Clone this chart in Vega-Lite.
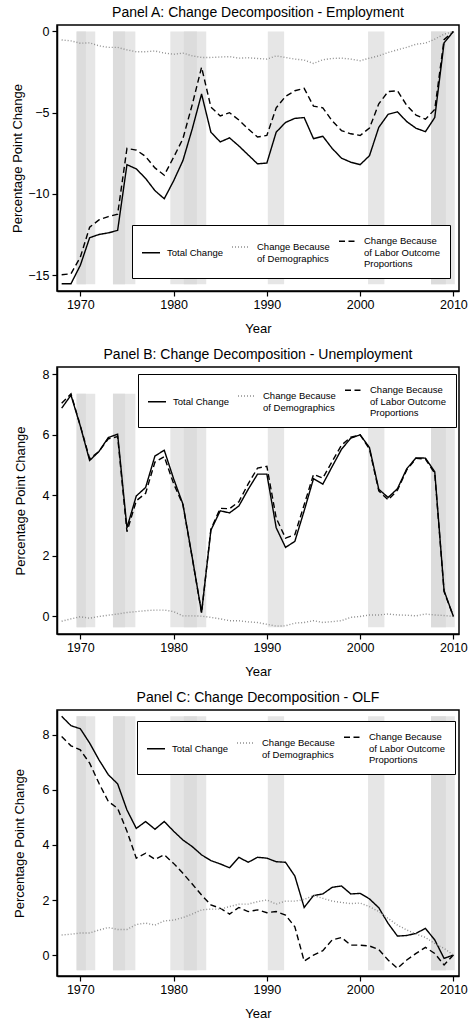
{
  "$schema": "https://vega.github.io/schema/vega-lite/v6.json",
  "background": "white",
  "padding": {"left": 11, "top": 5, "right": 0, "bottom": 2},
  "spacing": 10,
  "config": {
    "font": "Liberation Sans",
    "view": {"stroke": "black", "strokeWidth": 1.5},
    "title": {"fontSize": 14, "fontWeight": "normal", "color": "black", "offset": 5},
    "axis": {
      "labelFontSize": 12.5, "titleFontSize": 13, "titleFontWeight": "normal",
      "labelColor": "black", "titleColor": "black",
      "domainColor": "black", "domainWidth": 1.5, "tickColor": "black", "tickWidth": 1.2, "tickSize": 5,
      "gridColor": "#ececec", "gridWidth": 1.5
    },
    "axisX": {"grid": false, "labelPadding": 2, "titlePadding": 12},
    "axisY": {"labelPadding": 3},
    "legend": {
      "title": null, "direction": "vertical", "columns": 3,
      "symbolType": "M-1,0H2", "symbolSize": 144, "symbolStrokeWidth": 1.4,
      "labelFontSize": 9.5, "labelLimit": 200, "labelOffset": 12,
      "strokeColor": "black", "fillColor": "white", "padding": 9,
      "columnPadding": 6
    }
  },
  "datasets": {
    "rec": [
      {"start": 1969.6, "end": 1971.6},
      {"start": 1973.5, "end": 1975.9},
      {"start": 1979.65, "end": 1983.5},
      {"start": 1990.1, "end": 1991.85},
      {"start": 2000.85, "end": 2002.6},
      {"start": 2007.6, "end": 2010.15}
    ],
    "recdark": [
      {"start": 1969.6, "end": 1970.6},
      {"start": 1973.5, "end": 1974.8},
      {"start": 1981.1, "end": 1982.5},
      {"start": 2007.6, "end": 2009.2}
    ],
    "lines": [
      {"p": "A", "year": 1968, "Total": -15.53, "Labor": -14.98, "Demog": -0.52},
      {"p": "A", "year": 1969, "Total": -15.53, "Labor": -14.92, "Demog": -0.58},
      {"p": "A", "year": 1970, "Total": -14.4, "Labor": -13.9, "Demog": -0.72},
      {"p": "A", "year": 1971, "Total": -12.7, "Labor": -12.05, "Demog": -0.7},
      {"p": "A", "year": 1972, "Total": -12.5, "Labor": -11.6, "Demog": -0.88},
      {"p": "A", "year": 1973, "Total": -12.4, "Labor": -11.4, "Demog": -0.98},
      {"p": "A", "year": 1974, "Total": -12.25, "Labor": -11.25, "Demog": -0.98},
      {"p": "A", "year": 1975, "Total": -8.2, "Labor": -7.2, "Demog": -1.13},
      {"p": "A", "year": 1976, "Total": -8.46, "Labor": -7.3, "Demog": -1.25},
      {"p": "A", "year": 1977, "Total": -9.05, "Labor": -7.7, "Demog": -1.25},
      {"p": "A", "year": 1978, "Total": -9.8, "Labor": -8.4, "Demog": -1.2},
      {"p": "A", "year": 1979, "Total": -10.3, "Labor": -8.85, "Demog": -1.33},
      {"p": "A", "year": 1980, "Total": -9.2, "Labor": -7.75, "Demog": -1.4},
      {"p": "A", "year": 1981, "Total": -7.95, "Labor": -6.6, "Demog": -1.33},
      {"p": "A", "year": 1982, "Total": -6.0, "Labor": -4.5, "Demog": -1.5},
      {"p": "A", "year": 1983, "Total": -3.85, "Labor": -2.2, "Demog": -1.6},
      {"p": "A", "year": 1984, "Total": -6.2, "Labor": -4.65, "Demog": -1.6},
      {"p": "A", "year": 1985, "Total": -6.8, "Labor": -5.2, "Demog": -1.57},
      {"p": "A", "year": 1986, "Total": -6.55, "Labor": -5.0, "Demog": -1.55},
      {"p": "A", "year": 1987, "Total": -7.05, "Labor": -5.45, "Demog": -1.64},
      {"p": "A", "year": 1988, "Total": -7.6, "Labor": -6.0, "Demog": -1.62},
      {"p": "A", "year": 1989, "Total": -8.15, "Labor": -6.5, "Demog": -1.66},
      {"p": "A", "year": 1990, "Total": -8.1, "Labor": -6.4, "Demog": -1.7},
      {"p": "A", "year": 1991, "Total": -6.2, "Labor": -4.7, "Demog": -1.5},
      {"p": "A", "year": 1992, "Total": -5.6, "Labor": -4.0, "Demog": -1.6},
      {"p": "A", "year": 1993, "Total": -5.35, "Labor": -3.65, "Demog": -1.7},
      {"p": "A", "year": 1994, "Total": -5.3, "Labor": -3.5, "Demog": -1.76},
      {"p": "A", "year": 1995, "Total": -6.6, "Labor": -4.6, "Demog": -1.97},
      {"p": "A", "year": 1996, "Total": -6.45, "Labor": -4.7, "Demog": -1.74},
      {"p": "A", "year": 1997, "Total": -7.2, "Labor": -5.5, "Demog": -1.66},
      {"p": "A", "year": 1998, "Total": -7.8, "Labor": -6.1, "Demog": -1.64},
      {"p": "A", "year": 1999, "Total": -8.05, "Labor": -6.3, "Demog": -1.7},
      {"p": "A", "year": 2000, "Total": -8.2, "Labor": -6.4, "Demog": -1.8},
      {"p": "A", "year": 2001, "Total": -7.65, "Labor": -5.95, "Demog": -1.64},
      {"p": "A", "year": 2002, "Total": -5.9, "Labor": -4.45, "Demog": -1.5},
      {"p": "A", "year": 2003, "Total": -5.1, "Labor": -3.7, "Demog": -1.29},
      {"p": "A", "year": 2004, "Total": -4.95, "Labor": -3.65, "Demog": -1.13},
      {"p": "A", "year": 2005, "Total": -5.55, "Labor": -4.55, "Demog": -0.98},
      {"p": "A", "year": 2006, "Total": -5.96, "Labor": -5.15, "Demog": -0.78},
      {"p": "A", "year": 2007, "Total": -6.17, "Labor": -5.4, "Demog": -0.72},
      {"p": "A", "year": 2008, "Total": -5.3, "Labor": -4.8, "Demog": -0.47},
      {"p": "A", "year": 2009, "Total": -0.7, "Labor": -0.5, "Demog": -0.17},
      {"p": "A", "year": 2010, "Total": 0, "Labor": 0, "Demog": 0},
      {"p": "B", "year": 1968, "Total": 6.88, "Labor": 7.04, "Demog": -0.16},
      {"p": "B", "year": 1969, "Total": 7.31, "Labor": 7.35, "Demog": -0.08},
      {"p": "B", "year": 1970, "Total": 6.29, "Labor": 6.3, "Demog": -0.01},
      {"p": "B", "year": 1971, "Total": 5.15, "Labor": 5.21, "Demog": -0.06},
      {"p": "B", "year": 1972, "Total": 5.45, "Labor": 5.45, "Demog": 0.0},
      {"p": "B", "year": 1973, "Total": 5.91, "Labor": 5.87, "Demog": 0.04},
      {"p": "B", "year": 1974, "Total": 6.02, "Labor": 5.94, "Demog": 0.08},
      {"p": "B", "year": 1975, "Total": 2.93, "Labor": 2.8, "Demog": 0.13},
      {"p": "B", "year": 1976, "Total": 3.98, "Labor": 3.82, "Demog": 0.16},
      {"p": "B", "year": 1977, "Total": 4.26, "Labor": 4.07, "Demog": 0.19},
      {"p": "B", "year": 1978, "Total": 5.3, "Labor": 5.1, "Demog": 0.21},
      {"p": "B", "year": 1979, "Total": 5.49, "Labor": 5.28, "Demog": 0.21},
      {"p": "B", "year": 1980, "Total": 4.55, "Labor": 4.39, "Demog": 0.16},
      {"p": "B", "year": 1981, "Total": 3.71, "Labor": 3.69, "Demog": 0.02},
      {"p": "B", "year": 1982, "Total": 1.95, "Labor": 1.93, "Demog": 0.02},
      {"p": "B", "year": 1983, "Total": 0.13, "Labor": 0.12, "Demog": 0.01},
      {"p": "B", "year": 1984, "Total": 2.85, "Labor": 2.88, "Demog": -0.03},
      {"p": "B", "year": 1985, "Total": 3.49, "Labor": 3.57, "Demog": -0.08},
      {"p": "B", "year": 1986, "Total": 3.42, "Labor": 3.56, "Demog": -0.14},
      {"p": "B", "year": 1987, "Total": 3.65, "Labor": 3.79, "Demog": -0.14},
      {"p": "B", "year": 1988, "Total": 4.2, "Labor": 4.38, "Demog": -0.18},
      {"p": "B", "year": 1989, "Total": 4.7, "Labor": 4.9, "Demog": -0.2},
      {"p": "B", "year": 1990, "Total": 4.7, "Labor": 4.96, "Demog": -0.26},
      {"p": "B", "year": 1991, "Total": 2.93, "Labor": 3.25, "Demog": -0.32},
      {"p": "B", "year": 1992, "Total": 2.28, "Labor": 2.59, "Demog": -0.31},
      {"p": "B", "year": 1993, "Total": 2.48, "Labor": 2.7, "Demog": -0.22},
      {"p": "B", "year": 1994, "Total": 3.49, "Labor": 3.69, "Demog": -0.2},
      {"p": "B", "year": 1995, "Total": 4.55, "Labor": 4.69, "Demog": -0.14},
      {"p": "B", "year": 1996, "Total": 4.37, "Labor": 4.57, "Demog": -0.2},
      {"p": "B", "year": 1997, "Total": 4.95, "Labor": 5.12, "Demog": -0.17},
      {"p": "B", "year": 1998, "Total": 5.52, "Labor": 5.66, "Demog": -0.14},
      {"p": "B", "year": 1999, "Total": 5.89, "Labor": 5.92, "Demog": -0.03},
      {"p": "B", "year": 2000, "Total": 6.0, "Labor": 6.0, "Demog": 0.0},
      {"p": "B", "year": 2001, "Total": 5.58, "Labor": 5.53, "Demog": 0.05},
      {"p": "B", "year": 2002, "Total": 4.2, "Labor": 4.15, "Demog": 0.05},
      {"p": "B", "year": 2003, "Total": 3.93, "Labor": 3.85, "Demog": 0.08},
      {"p": "B", "year": 2004, "Total": 4.22, "Labor": 4.17, "Demog": 0.05},
      {"p": "B", "year": 2005, "Total": 4.88, "Labor": 4.84, "Demog": 0.04},
      {"p": "B", "year": 2006, "Total": 5.24, "Labor": 5.22, "Demog": 0.02},
      {"p": "B", "year": 2007, "Total": 5.23, "Labor": 5.2, "Demog": 0.08},
      {"p": "B", "year": 2008, "Total": 4.78, "Labor": 4.73, "Demog": 0.05},
      {"p": "B", "year": 2009, "Total": 0.85, "Labor": 0.82, "Demog": 0.03},
      {"p": "B", "year": 2010, "Total": 0, "Labor": 0, "Demog": 0},
      {"p": "C", "year": 1968, "Total": 8.67, "Labor": 7.94, "Demog": 0.73},
      {"p": "C", "year": 1969, "Total": 8.33, "Labor": 7.6, "Demog": 0.76},
      {"p": "C", "year": 1970, "Total": 8.22, "Labor": 7.45, "Demog": 0.8},
      {"p": "C", "year": 1971, "Total": 7.7, "Labor": 6.97, "Demog": 0.8},
      {"p": "C", "year": 1972, "Total": 7.09, "Labor": 6.24, "Demog": 0.91},
      {"p": "C", "year": 1973, "Total": 6.55, "Labor": 5.58, "Demog": 1.0},
      {"p": "C", "year": 1974, "Total": 6.22, "Labor": 5.33, "Demog": 0.93},
      {"p": "C", "year": 1975, "Total": 5.27, "Labor": 4.5, "Demog": 0.93},
      {"p": "C", "year": 1976, "Total": 4.6, "Labor": 3.52, "Demog": 1.11},
      {"p": "C", "year": 1977, "Total": 4.85, "Labor": 3.7, "Demog": 1.16},
      {"p": "C", "year": 1978, "Total": 4.57, "Labor": 3.48, "Demog": 1.09},
      {"p": "C", "year": 1979, "Total": 4.85, "Labor": 3.64, "Demog": 1.24},
      {"p": "C", "year": 1980, "Total": 4.5, "Labor": 3.33, "Demog": 1.27},
      {"p": "C", "year": 1981, "Total": 4.18, "Labor": 2.97, "Demog": 1.36},
      {"p": "C", "year": 1982, "Total": 3.94, "Labor": 2.58, "Demog": 1.49},
      {"p": "C", "year": 1983, "Total": 3.64, "Labor": 2.18, "Demog": 1.64},
      {"p": "C", "year": 1984, "Total": 3.43, "Labor": 1.82, "Demog": 1.67},
      {"p": "C", "year": 1985, "Total": 3.31, "Labor": 1.7, "Demog": 1.67},
      {"p": "C", "year": 1986, "Total": 3.17, "Labor": 1.49, "Demog": 1.76},
      {"p": "C", "year": 1987, "Total": 3.55, "Labor": 1.73, "Demog": 1.85},
      {"p": "C", "year": 1988, "Total": 3.37, "Labor": 1.58, "Demog": 1.85},
      {"p": "C", "year": 1989, "Total": 3.55, "Labor": 1.64, "Demog": 1.94},
      {"p": "C", "year": 1990, "Total": 3.52, "Labor": 1.54, "Demog": 2.0},
      {"p": "C", "year": 1991, "Total": 3.39, "Labor": 1.58, "Demog": 1.85},
      {"p": "C", "year": 1992, "Total": 3.37, "Labor": 1.45, "Demog": 1.96},
      {"p": "C", "year": 1993, "Total": 2.87, "Labor": 1.03, "Demog": 1.96},
      {"p": "C", "year": 1994, "Total": 1.73, "Labor": -0.22, "Demog": 2.02},
      {"p": "C", "year": 1995, "Total": 2.16, "Labor": 0.0, "Demog": 2.16},
      {"p": "C", "year": 1996, "Total": 2.22, "Labor": 0.16, "Demog": 2.06},
      {"p": "C", "year": 1997, "Total": 2.46, "Labor": 0.55, "Demog": 1.96},
      {"p": "C", "year": 1998, "Total": 2.51, "Labor": 0.64, "Demog": 1.91},
      {"p": "C", "year": 1999, "Total": 2.22, "Labor": 0.36, "Demog": 1.87},
      {"p": "C", "year": 2000, "Total": 2.24, "Labor": 0.36, "Demog": 1.89},
      {"p": "C", "year": 2001, "Total": 2.04, "Labor": 0.33, "Demog": 1.76},
      {"p": "C", "year": 2002, "Total": 1.72, "Labor": 0.2, "Demog": 1.58},
      {"p": "C", "year": 2003, "Total": 1.15, "Labor": -0.18, "Demog": 1.33},
      {"p": "C", "year": 2004, "Total": 0.69, "Labor": -0.48, "Demog": 1.09},
      {"p": "C", "year": 2005, "Total": 0.71, "Labor": -0.18, "Demog": 0.91},
      {"p": "C", "year": 2006, "Total": 0.79, "Labor": 0.06, "Demog": 0.76},
      {"p": "C", "year": 2007, "Total": 0.97, "Labor": 0.28, "Demog": 0.64},
      {"p": "C", "year": 2008, "Total": 0.55, "Labor": 0.06, "Demog": 0.42},
      {"p": "C", "year": 2009, "Total": -0.12, "Labor": -0.36, "Demog": 0.24},
      {"p": "C", "year": 2010, "Total": 0, "Labor": 0, "Demog": 0}
    ]
  },
  "resolve": {"scale": {"color": "independent", "strokeDash": "independent"}},
  "vconcat": [
    {
      "width": 402, "height": 266,
      "title": "Panel A: Change Decomposition - Employment",
      "layer": [
        {
          "data": {"name": "rec"},
          "mark": {"type": "rect", "color": "#e6e6e6"},
          "encoding": {
            "x": {"field": "start", "type": "quantitative", "title": "Year"},
            "x2": {"field": "end"},
            "y": {"datum": -15.57, "type": "quantitative", "title": "Percentage Point Change"},
            "y2": {"datum": 0}
          }
        },
        {
          "data": {"name": "recdark"},
          "mark": {"type": "rect", "color": "#dcdcdc"},
          "encoding": {
            "x": {"field": "start", "type": "quantitative", "title": "Year"},
            "x2": {"field": "end"},
            "y": {"datum": -15.57, "type": "quantitative", "title": "Percentage Point Change"},
            "y2": {"datum": 0}
          }
        },
        {
          "data": {"name": "lines"},
          "transform": [{"filter": "datum.p == 'A'"}, {"fold": ["Total", "Labor", "Demog"], "as": ["s", "v"]}],
          "mark": {"type": "line", "strokeWidth": 1.4},
          "encoding": {
            "x": {"field": "year", "type": "quantitative", "title": "Year",
              "scale": {"domain": [1967.5, 2010.6], "nice": false, "zero": false},
              "axis": {"values": [1970, 1980, 1990, 2000, 2010], "format": "d"}},
            "y": {"field": "v", "type": "quantitative", "title": "Percentage Point Change",
              "scale": {"domain": [-15.98, 0.4], "nice": false, "zero": false},
              "axis": {"values": [-15, -10, -5, 0], "titlePadding": 3}},
            "color": {"field": "s", "type": "nominal",
              "scale": {"domain": ["Total", "Demog", "Labor"], "range": ["#000000", "#909090", "#000000"]},
              "legend": {"orient": "none", "legendX": 75, "legendY": 200,
                "labelExpr": "datum.value == 'Total' ? 'Total Change' : datum.value == 'Demog' ? ['Change Because', 'of Demographics'] : ['Change Because', 'of Labor Outcome', 'Proportions']"}},
            "strokeDash": {"field": "s", "type": "nominal",
              "scale": {"domain": ["Total", "Demog", "Labor"], "range": [[1, 0], [1, 2], [6, 3.5]]},
              "legend": {"orient": "none", "legendX": 75, "legendY": 200,
                "labelExpr": "datum.value == 'Total' ? 'Total Change' : datum.value == 'Demog' ? ['Change Because', 'of Demographics'] : ['Change Because', 'of Labor Outcome', 'Proportions']"}}
          }
        }
      ]
    },
    {
      "width": 402, "height": 267,
      "title": "Panel B: Change Decomposition - Unemployment",
      "layer": [
        {
          "data": {"name": "rec"},
          "mark": {"type": "rect", "color": "#e6e6e6"},
          "encoding": {
            "x": {"field": "start", "type": "quantitative", "title": "Year"},
            "x2": {"field": "end"},
            "y": {"datum": -0.36, "type": "quantitative", "title": "Percentage Point Change"},
            "y2": {"datum": 7.36}
          }
        },
        {
          "data": {"name": "recdark"},
          "mark": {"type": "rect", "color": "#dcdcdc"},
          "encoding": {
            "x": {"field": "start", "type": "quantitative", "title": "Year"},
            "x2": {"field": "end"},
            "y": {"datum": -0.36, "type": "quantitative", "title": "Percentage Point Change"},
            "y2": {"datum": 7.36}
          }
        },
        {
          "data": {"name": "lines"},
          "transform": [{"filter": "datum.p == 'B'"}, {"fold": ["Total", "Labor", "Demog"], "as": ["s", "v"]}],
          "mark": {"type": "line", "strokeWidth": 1.4},
          "encoding": {
            "x": {"field": "year", "type": "quantitative", "title": "Year",
              "scale": {"domain": [1967.5, 2010.6], "nice": false, "zero": false},
              "axis": {"values": [1970, 1980, 1990, 2000, 2010], "format": "d"}},
            "y": {"field": "v", "type": "quantitative", "title": "Percentage Point Change",
              "scale": {"domain": [-0.58, 8.24], "nice": false, "zero": false},
              "axis": {"values": [0, 2, 4, 6, 8], "titlePadding": 14.5}},
            "color": {"field": "s", "type": "nominal",
              "scale": {"domain": ["Total", "Demog", "Labor"], "range": ["#000000", "#909090", "#000000"]},
              "legend": {"orient": "none", "legendX": 81, "legendY": 7,
                "labelExpr": "datum.value == 'Total' ? 'Total Change' : datum.value == 'Demog' ? ['Change Because', 'of Demographics'] : ['Change Because', 'of Labor Outcome', 'Proportions']"}},
            "strokeDash": {"field": "s", "type": "nominal",
              "scale": {"domain": ["Total", "Demog", "Labor"], "range": [[1, 0], [1, 2], [6, 3.5]]},
              "legend": {"orient": "none", "legendX": 81, "legendY": 7,
                "labelExpr": "datum.value == 'Total' ? 'Total Change' : datum.value == 'Demog' ? ['Change Because', 'of Demographics'] : ['Change Because', 'of Labor Outcome', 'Proportions']"}}
          }
        }
      ]
    },
    {
      "width": 402, "height": 266,
      "title": "Panel C: Change Decomposition - OLF",
      "layer": [
        {
          "data": {"name": "rec"},
          "mark": {"type": "rect", "color": "#e6e6e6"},
          "encoding": {
            "x": {"field": "start", "type": "quantitative", "title": "Year"},
            "x2": {"field": "end"},
            "y": {"datum": -0.55, "type": "quantitative", "title": "Percentage Point Change"},
            "y2": {"datum": 8.67}
          }
        },
        {
          "data": {"name": "recdark"},
          "mark": {"type": "rect", "color": "#dcdcdc"},
          "encoding": {
            "x": {"field": "start", "type": "quantitative", "title": "Year"},
            "x2": {"field": "end"},
            "y": {"datum": -0.55, "type": "quantitative", "title": "Percentage Point Change"},
            "y2": {"datum": 8.67}
          }
        },
        {
          "data": {"name": "lines"},
          "transform": [{"filter": "datum.p == 'C'"}, {"fold": ["Total", "Labor", "Demog"], "as": ["s", "v"]}],
          "mark": {"type": "line", "strokeWidth": 1.4},
          "encoding": {
            "x": {"field": "year", "type": "quantitative", "title": "Year",
              "scale": {"domain": [1967.5, 2010.6], "nice": false, "zero": false},
              "axis": {"values": [1970, 1980, 1990, 2000, 2010], "format": "d"}},
            "y": {"field": "v", "type": "quantitative", "title": "Percentage Point Change",
              "scale": {"domain": [-0.76, 8.9], "nice": false, "zero": false},
              "axis": {"values": [0, 2, 4, 6, 8], "titlePadding": 16}},
            "color": {"field": "s", "type": "nominal",
              "scale": {"domain": ["Total", "Demog", "Labor"], "range": ["#000000", "#909090", "#000000"]},
              "legend": {"orient": "none", "legendX": 80, "legendY": 11,
                "labelExpr": "datum.value == 'Total' ? 'Total Change' : datum.value == 'Demog' ? ['Change Because', 'of Demographics'] : ['Change Because', 'of Labor Outcome', 'Proportions']"}},
            "strokeDash": {"field": "s", "type": "nominal",
              "scale": {"domain": ["Total", "Demog", "Labor"], "range": [[1, 0], [1, 2], [6, 3.5]]},
              "legend": {"orient": "none", "legendX": 80, "legendY": 11,
                "labelExpr": "datum.value == 'Total' ? 'Total Change' : datum.value == 'Demog' ? ['Change Because', 'of Demographics'] : ['Change Because', 'of Labor Outcome', 'Proportions']"}}
          }
        }
      ]
    }
  ]
}
